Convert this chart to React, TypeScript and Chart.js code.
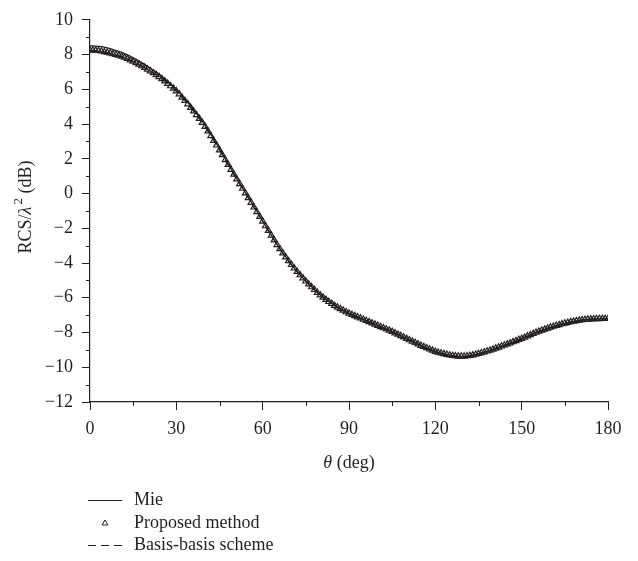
import React, { useEffect, useRef } from "react";
import { Chart, registerables } from "chart.js";

Chart.register(...registerables);

// Proposed method, theta = 0..180 deg step 1
const proposed: number[] = [
  8.25, 8.25, 8.24, 8.22, 8.19, 8.15, 8.12, 8.08, 8.04, 8.0,
  7.95, 7.89, 7.83, 7.76, 7.68, 7.6, 7.52, 7.43, 7.34, 7.25,
  7.15, 7.05, 6.94, 6.83, 6.72, 6.6, 6.47, 6.33, 6.19, 6.05,
  5.9, 5.72, 5.53, 5.34, 5.15, 4.95, 4.74, 4.53, 4.31, 4.08,
  3.85, 3.59, 3.32, 3.05, 2.78, 2.5, 2.22, 1.94, 1.66, 1.38,
  1.1, 0.83, 0.56, 0.29, 0.02, -0.25, -0.52, -0.79, -1.06, -1.33,
  -1.6, -1.87, -2.14, -2.41, -2.68, -2.95, -3.19, -3.43, -3.66, -3.88,
  -4.1, -4.3, -4.5, -4.69, -4.87, -5.05, -5.22, -5.38, -5.54, -5.7,
  -5.85, -5.98, -6.11, -6.23, -6.34, -6.45, -6.55, -6.64, -6.73, -6.82,
  -6.9, -6.97, -7.04, -7.11, -7.18, -7.25, -7.32, -7.39, -7.46, -7.53,
  -7.6, -7.67, -7.74, -7.81, -7.88, -7.95, -8.03, -8.11, -8.19, -8.27,
  -8.35, -8.43, -8.51, -8.59, -8.67, -8.75, -8.82, -8.89, -8.96, -9.03,
  -9.1, -9.15, -9.19, -9.23, -9.27, -9.3, -9.33, -9.35, -9.37, -9.37,
  -9.37, -9.35, -9.33, -9.3, -9.26, -9.22, -9.18, -9.13, -9.08, -9.03,
  -8.97, -8.91, -8.85, -8.79, -8.73, -8.67, -8.61, -8.54, -8.48, -8.41,
  -8.35, -8.28, -8.21, -8.14, -8.07, -8.0, -7.94, -7.88, -7.82, -7.76,
  -7.7, -7.65, -7.6, -7.56, -7.51, -7.47, -7.43, -7.39, -7.36, -7.33,
  -7.3, -7.28, -7.26, -7.24, -7.23, -7.22, -7.21, -7.21, -7.2, -7.2,
  -7.2,
];

// Mie, theta = 0..180 deg step 2
const mie: number[] = [
  8.5, 8.49, 8.45, 8.38, 8.29, 8.18, 8.05, 7.9, 7.73, 7.54,
  7.33, 7.1, 6.86, 6.58, 6.29, 5.98, 5.62, 5.23, 4.82, 4.38,
  3.92, 3.4, 2.85, 2.29, 1.72, 1.15, 0.6, 0.06, -0.48, -1.03,
  -1.58, -2.12, -2.66, -3.18, -3.65, -4.09, -4.49, -4.87, -5.21, -5.53,
  -5.84, -6.1, -6.33, -6.54, -6.72, -6.89, -7.03, -7.17, -7.31, -7.45,
  -7.59, -7.73, -7.87, -8.02, -8.18, -8.34, -8.5, -8.66, -8.81, -8.95,
  -9.09, -9.19, -9.27, -9.33, -9.37, -9.37, -9.33, -9.26, -9.18, -9.08,
  -8.97, -8.85, -8.73, -8.61, -8.48, -8.35, -8.21, -8.07, -7.94, -7.82,
  -7.7, -7.6, -7.51, -7.43, -7.36, -7.3, -7.26, -7.23, -7.21, -7.2,
  -7.2,
];

// Basis-basis scheme, theta = 0..180 deg step 2
const basis: number[] = [
  8.24, 8.23, 8.18, 8.11, 8.03, 7.94, 7.82, 7.67, 7.51, 7.33,
  7.14, 6.93, 6.71, 6.46, 6.18, 5.89, 5.52, 5.14, 4.73, 4.3,
  3.84, 3.31, 2.77, 2.21, 1.65, 1.09, 0.55, 0.01, -0.53, -1.07,
  -1.61, -2.15, -2.69, -3.2, -3.67, -4.11, -4.51, -4.88, -5.23, -5.55,
  -5.86, -6.12, -6.35, -6.56, -6.74, -6.91, -7.05, -7.19, -7.33, -7.47,
  -7.61, -7.75, -7.89, -8.04, -8.2, -8.36, -8.52, -8.68, -8.83, -8.97,
  -9.11, -9.2, -9.28, -9.34, -9.38, -9.38, -9.34, -9.27, -9.19, -9.09,
  -8.98, -8.86, -8.74, -8.62, -8.49, -8.36, -8.22, -8.08, -7.95, -7.83,
  -7.71, -7.61, -7.52, -7.44, -7.37, -7.31, -7.27, -7.24, -7.22, -7.21,
  -7.21,
];

const xTicks = [0, 30, 60, 90, 120, 150, 180];
const xMinor = [15, 45, 75, 105, 135, 165];
const yMinor = [-11, -9, -7, -5, -3, -1, 1, 3, 5, 7, 9];
const legendLabels = ["Mie", "Proposed method", "Basis-basis scheme"];

const INK = "#231f20";
const FONT = "'Liberation Serif', 'Times New Roman', serif";
const FS = 18;

const decorPlugin = {
  id: "decor",
  afterDraw(chart: any) {
    const ctx = chart.ctx as CanvasRenderingContext2D;
    const area = chart.chartArea;
    const xs = chart.scales.x;
    const ys = chart.scales.y;
    ctx.save();
    ctx.strokeStyle = INK;
    ctx.lineWidth = 1;
    // minor ticks
    ctx.beginPath();
    for (const v of xMinor) {
      const px = Math.round(xs.getPixelForValue(v)) + 0.5;
      ctx.moveTo(px, area.bottom);
      ctx.lineTo(px, area.bottom + 4);
    }
    for (const v of yMinor) {
      const py = Math.round(ys.getPixelForValue(v)) + 0.5;
      ctx.moveTo(area.left - 4, py);
      ctx.lineTo(area.left, py);
    }
    ctx.stroke();

    ctx.fillStyle = INK;
    ctx.textBaseline = "middle";
    // x title: θ (deg)
    const cx = (area.left + area.right) / 2;
    const tY = 463;
    ctx.font = `italic ${FS}px ${FONT}`;
    const wTheta = ctx.measureText("θ").width;
    ctx.font = `${FS}px ${FONT}`;
    const wRest = ctx.measureText(" (deg)").width;
    const sx = cx - (wTheta + wRest) / 2;
    ctx.textAlign = "left";
    ctx.font = `italic ${FS}px ${FONT}`;
    ctx.fillText("θ", sx, tY);
    ctx.font = `${FS}px ${FONT}`;
    ctx.fillText(" (deg)", sx + wTheta, tY);

    // y title: RCS/λ² (dB)
    ctx.save();
    ctx.translate(26, 207);
    ctx.rotate(-Math.PI / 2);
    ctx.font = `${FS}px ${FONT}`;
    const w1 = ctx.measureText("RCS/").width;
    ctx.font = `italic ${FS}px ${FONT}`;
    const w2 = ctx.measureText("λ").width;
    ctx.font = `13px ${FONT}`;
    const w3 = ctx.measureText("2").width + 2;
    ctx.font = `${FS}px ${FONT}`;
    const w4 = ctx.measureText(" (dB)").width;
    let x0 = -(w1 + w2 + w3 + w4) / 2;
    ctx.font = `${FS}px ${FONT}`;
    ctx.fillText("RCS/", x0, 0);
    x0 += w1;
    ctx.font = `italic ${FS}px ${FONT}`;
    ctx.fillText("λ", x0, 0);
    x0 += w2;
    ctx.font = `13px ${FONT}`;
    ctx.fillText("2", x0 + 2, -7);
    x0 += w3;
    ctx.font = `${FS}px ${FONT}`;
    ctx.fillText(" (dB)", x0, 0);
    ctx.restore();

    // legend
    const rows = [500, 523, 545];
    const lx0 = 88;
    const lx1 = 122;
    const tx = 134;
    ctx.font = `${FS}px ${FONT}`;
    ctx.textAlign = "left";
    // Mie
    ctx.beginPath();
    ctx.moveTo(lx0, rows[0] + 0.5);
    ctx.lineTo(lx1, rows[0] + 0.5);
    ctx.stroke();
    ctx.fillText(legendLabels[0], tx, rows[0]);
    // Proposed
    const cxm = (lx0 + lx1) / 2;
    ctx.beginPath();
    ctx.moveTo(cxm, rows[1] - 3);
    ctx.lineTo(cxm + 3, rows[1] + 2);
    ctx.lineTo(cxm - 3, rows[1] + 2);
    ctx.closePath();
    ctx.stroke();
    ctx.fillText(legendLabels[1], tx, rows[1]);
    // Basis
    ctx.setLineDash([8, 5]);
    ctx.beginPath();
    ctx.moveTo(lx0, rows[2] + 0.5);
    ctx.lineTo(lx1, rows[2] + 0.5);
    ctx.stroke();
    ctx.setLineDash([]);
    ctx.fillText(legendLabels[2], tx, rows[2]);
    ctx.restore();
  },
};

export default function App() {
  const ref = useRef<HTMLCanvasElement | null>(null);
  useEffect(() => {
    document.body.style.margin = "0";
    if (!ref.current) return;
    const chart = new Chart(ref.current, {
      type: "line",
      data: {
        datasets: [
          {
            label: "Basis-basis scheme",
            data: basis.map((v, i) => ({ x: i * 2, y: v })),
            borderColor: INK,
            borderWidth: 1.2,
            borderDash: [8, 5],
            pointRadius: 0,
            fill: false,
            tension: 0.3,
          },
          {
            label: "Proposed method",
            data: proposed.map((v, i) => ({ x: i, y: v })),
            showLine: false,
            pointStyle: "triangle",
            pointRadius: 3.5,
            borderColor: INK,
            backgroundColor: "rgba(255,255,255,0)",
            pointBorderWidth: 1.2,
          },
          {
            label: "Mie",
            data: mie.map((v, i) => ({ x: i * 2, y: v })),
            borderColor: INK,
            borderWidth: 1.3,
            pointRadius: 0,
            fill: false,
            tension: 0.3,
          },
        ],
      },
      options: {
        responsive: false,
        animation: false,
        layout: { padding: { left: 0, right: 30, top: 15, bottom: 99 } },
        plugins: {
          legend: { display: false },
          tooltip: { enabled: false },
        },
        scales: {
          x: {
            type: "linear",
            min: 0,
            max: 180,
            afterBuildTicks: (axis: any) => {
              axis.ticks = xTicks.map((v) => ({ value: v }));
            },
            afterFit: (axis: any) => {
              axis.height = 60;
            },
            ticks: {
              color: INK,
              font: { family: FONT, size: FS },
              padding: 8,
              maxRotation: 0,
            },
            grid: {
              drawOnChartArea: false,
              drawTicks: true,
              tickLength: 8,
              tickColor: INK,
            },
            border: { display: true, color: INK, width: 1.2 },
          },
          y: {
            type: "linear",
            min: -12,
            max: 10,
            ticks: {
              stepSize: 2,
              color: INK,
              font: { family: FONT, size: FS },
              padding: 9,
              callback: (v: any) => (Number(v) < 0 ? "\u2212" + Math.abs(Number(v)) : String(v)),
            },
            afterFit: (axis: any) => {
              axis.width = 90;
            },
            grid: {
              drawOnChartArea: false,
              drawTicks: true,
              tickLength: 8,
              tickColor: INK,
            },
            border: { display: true, color: INK, width: 1.2 },
          },
        },
      },
      plugins: [decorPlugin],
    });
    return () => chart.destroy();
  }, []);
  return (
    <div style={{ width: 638, height: 561, background: "#fff" }}>
      <canvas ref={ref} width={638} height={561} style={{ display: "block" }} />
    </div>
  );
}
